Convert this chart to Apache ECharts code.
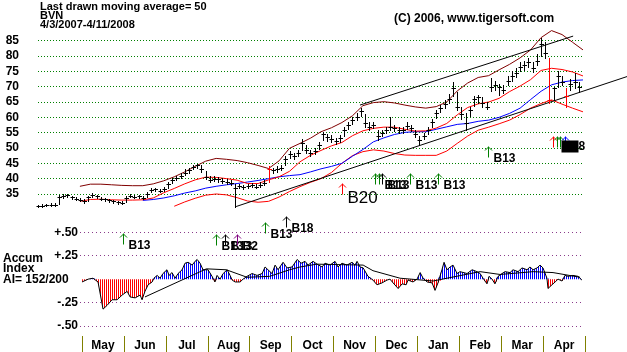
<!DOCTYPE html>
<html>
<head>
<meta charset="utf-8">
<script src="https://cdn.jsdelivr.net/npm/echarts@6/dist/echarts.min.js"></script>
<style>
html, body { margin: 0; padding: 0; background: #fff; }
#chart { width: 627px; height: 352px; }
</style>
</head>
<body>
<div id="chart"></div>
<script>
// price bars, one every 2 trading days (day index = i * barStep)
var barStep = 2;
var priceClose = [31.1,31.2,31.4,31.5,31.4,34.0,34.3,34.6,33.9,33.4,
  33.0,32.6,34.0,34.6,34.2,33.4,33.2,32.9,32.6,32.3,
  32.0,33.8,34.5,34.0,34.2,33.7,35.0,36.3,36.5,36.0,
  36.6,38.2,39.5,40.2,41.0,42.0,42.8,43.8,44.5,43.0,
  40.6,39.5,40.0,39.8,39.3,39.0,38.6,37.0,37.6,37.2,
  37.6,37.9,37.4,38.0,38.6,43.0,42.8,43.2,43.6,46.5,
  48.0,47.5,48.5,51.5,49.4,48.3,49.0,51.0,54.5,53.5,
  53.0,52.2,53.2,55.9,57.5,59.0,60.2,62.0,58.0,57.0,
  57.5,54.0,55.0,56.0,57.0,56.4,56.0,55.9,57.3,56.5,
  54.5,52.5,54.0,55.9,58.5,61.5,63.0,64.5,66.0,69.5,
  63.5,61.0,58.0,62.5,66.0,66.5,64.8,63.5,70.0,70.5,
  69.8,69.0,72.0,73.5,74.5,76.5,77.0,78.2,76.0,78.5,
  84.0,81.0,65.5,69.5,73.5,71.6,67.0,71.0,71.5,70.0];
var priceHigh = [31.5,31.6,31.8,31.9,31.9,34.6,35.0,35.1,34.5,34.0,
  33.6,33.2,34.5,35.2,34.8,34.0,33.7,33.4,33.1,32.8,
  32.6,34.4,35.0,34.6,34.8,34.2,35.6,36.9,37.0,36.6,
  37.2,38.8,40.2,41.0,41.8,43.0,43.5,44.6,44.9,44.5,
  42.5,40.8,40.8,40.6,40.2,39.8,39.5,38.3,38.4,38.0,
  38.3,38.6,38.2,38.8,39.4,44.0,43.6,44.0,44.6,47.5,
  49.0,48.5,49.4,52.8,51.0,49.5,50.0,52.0,55.3,54.6,
  54.2,53.4,54.2,56.8,58.4,60.0,61.5,63.0,61.0,58.5,
  58.5,56.0,56.0,57.0,60.2,57.5,57.0,57.0,58.4,57.5,
  56.0,53.8,55.0,56.8,59.5,62.5,64.0,65.5,67.5,71.6,
  68.4,63.5,61.5,63.5,67.0,67.3,66.5,65.0,72.7,72.0,
  71.0,70.5,73.5,75.0,76.0,78.0,78.5,79.5,78.0,80.5,
  85.8,84.5,79.5,70.0,75.0,73.5,69.5,72.5,74.4,71.6];
var priceLow = [30.8,30.9,31.0,31.1,31.0,31.6,33.8,34.0,33.5,33.0,
  32.6,32.2,32.8,34.0,33.7,33.0,32.8,32.4,32.1,31.8,
  31.6,32.4,33.9,33.6,33.7,33.2,34.0,35.6,35.9,35.5,
  36.0,37.0,38.6,39.5,40.2,41.2,42.0,43.0,43.6,42.3,
  40.0,38.8,39.2,39.0,38.6,38.3,37.8,30.9,36.8,36.5,
  36.9,37.2,36.8,37.3,37.9,39.0,41.8,42.3,42.8,44.5,
  46.8,46.5,47.4,49.5,48.4,47.3,48.0,49.6,52.5,52.4,
  52.0,51.2,52.0,54.0,56.3,57.8,59.0,60.5,57.0,56.0,
  56.5,52.6,53.8,54.8,56.0,55.5,55.0,54.8,56.2,55.4,
  53.5,51.0,52.8,54.6,57.0,59.8,61.8,63.2,64.8,67.0,
  62.5,59.5,55.9,60.5,63.8,64.8,63.5,62.8,68.5,69.0,
  67.3,67.8,70.5,72.0,73.0,75.0,75.5,76.5,74.9,77.0,
  80.0,79.5,64.6,65.5,70.0,70.5,63.5,69.0,69.5,68.4];
var redBars = [55, 122, 126];

// moving averages and bands, every 5 trading days
var bandDays = [20,25,30,35,40,45,50,55,60,65,70,75,80,85,90,95,100,105,110,115,
  120,125,130,135,140,145,150,155,160,165,170,175,180,185,190,195,200,205,210,215,
  220,225,230,235,240,245,250,255,260];
var upperBand = [37.5,38.2,38.2,38.0,37.8,37.7,37.7,38.3,39.3,40.6,42.2,44.0,45.7,46.6,46.3,45.9,45.2,44.3,43.3,45.8,
  49.9,51.5,53.2,55.3,56.6,58.3,60.5,63.8,64.8,65.1,64.7,64.0,63.4,63.0,63.5,65.0,68.6,71.2,73.0,73.6,
  75.5,77.3,79.4,82.0,86.0,88.3,87.0,84.5,82.0];
var ma21 = [32.6,33.2,33.3,33.1,33.0,33.0,33.1,33.7,35.4,36.8,38.3,39.6,40.5,40.4,40.0,39.5,38.4,38.4,39.6,40.6,
  42.4,45.5,47.6,49.2,50.7,51.8,54.0,55.6,56.4,56.8,56.8,56.1,55.5,55.6,56.5,58.0,60.8,63.2,64.4,65.0,
  66.2,68.4,70.2,72.3,75.3,76.0,75.6,74.8,73.5];
var ma50 = [null,null,null,null,null,null,32.9,33.2,33.7,34.4,35.3,36.0,36.9,37.5,38.0,38.4,38.9,39.4,40.0,40.6,
  41.0,41.3,42.2,43.2,44.0,45.0,47.3,49.5,52.0,53.3,54.4,55.1,55.3,55.3,56.1,56.9,57.7,58.0,58.7,59.1,
  60.0,61.3,63.0,65.8,68.5,70.6,71.5,72.0,72.2];
var lowerBand = [null,null,null,null,null,null,null,null,null,31.0,32.4,33.6,34.6,35.0,34.7,33.8,32.7,32.3,32.6,34.0,
  35.8,37.4,38.8,40.0,42.0,45.0,47.5,48.8,49.4,49.0,48.2,47.7,47.6,47.6,47.6,49.0,51.5,53.9,55.8,56.8,
  57.9,59.1,60.9,63.0,64.5,65.7,64.3,63.0,61.8];

// trend lines
var trendUpDays = [153.6, 255.3];
var trendUpVals = [64.0, 86.5];
var trendLowDays = [94.5, 281];
var trendLowVals = [30.9, 73.3];

// signals on the price panel
var priceSigDays = [145.0, 160.8, 162.7, 164.1, 177.5, 190.7, 214.8, 245.9, 247.8, 249.0, 251.4];
var priceSigVals = [38.6, 41.8, 41.8, 41.8, 41.8, 41.8, 50.5, 53.9, 53.9, 53.9, 53.9];
var priceSigColors = ['#ff0000','#008000','#008000','#000000','#008000','#008000','#008000','#ff0000','#008000','#008000','#0000ff'];
var priceSigLabels = ['B20','','B13','B13','B13','B13','B13','','','','#8'];

// accumulation index
var aiDays = [21.0,23.9,26.2,28.6,31.0,32.9,35.3,37.7,40.1,42.5,
  43.9,46.3,48.7,49.6,51.0,52.5,54.4,55.3,56.8,58.2,
  59.6,61.5,62.5,63.9,65.4,66.8,68.7,70.1,71.6,73.5,
  74.9,75.9,77.3,78.7,81.1,83.0,84.4,85.4,86.8,88.3,
  90.2,91.6,92.6,94.0,96.4,97.8,99.7,102.1,104.5,106.9,
  108.3,109.7,111.6,113.1,114.5,116.9,118.8,121.2,123.6,125.5,
  127.4,128.8,131.2,133.1,135.5,136.9,139.3,141.7,143.1,145.0,
  147.4,149.8,151.2,152.2,153.6,155.1,157.4,159.8,161.7,164.1,
  166.5,167.9,169.4,171.8,173.7,175.6,176.5,178.9,180.8,182.3,
  183.7,185.6,188.0,189.4,190.8,192.7,193.7,195.1,196.6,198.0,
  199.9,201.3,204.7,207.1,209.4,210.9,212.3,214.2,215.2,216.6,
  218.0,219.5,221.4,222.8,225.2,226.6,229.0,230.9,233.3,234.7,
  236.2,238.1,239.5,240.9,242.8,243.3,245.2,246.7,248.1,250.0,
  251.4,252.9,255.2,257.6,259.5];
var aiVals = [-0.03,0.0,0.01,-0.03,-0.32,-0.28,-0.22,-0.22,-0.17,-0.13,
  -0.19,-0.20,-0.17,-0.22,-0.13,-0.06,-0.03,0.01,0.04,0.01,
  0.06,0.10,0.04,0.07,0.01,0.06,0.10,0.17,0.18,0.15,
  0.19,0.21,0.17,0.10,0.10,0.03,-0.03,0.04,0.0,0.06,
  0.10,0.04,-0.01,-0.03,-0.03,0.0,0.03,0.06,0.04,0.06,
  0.13,0.10,0.06,0.15,0.10,0.18,0.12,0.13,0.21,0.17,
  0.19,0.15,0.19,0.16,0.13,0.17,0.15,0.19,0.13,0.17,
  0.15,0.18,0.15,0.19,0.13,0.12,0.03,-0.01,-0.06,-0.04,
  -0.01,0.0,-0.04,-0.10,-0.05,-0.06,-0.01,-0.03,0.0,0.07,
  0.01,-0.03,-0.04,-0.12,-0.04,0.10,0.18,0.10,0.13,0.15,
  0.06,0.08,0.06,0.10,0.08,0.06,0.01,-0.05,0.03,0.0,
  -0.05,0.03,0.06,0.08,0.07,0.10,0.08,0.12,0.10,0.13,
  0.10,0.12,0.15,0.12,0.01,-0.10,-0.06,-0.03,0.0,-0.02,
  0.04,0.03,0.04,0.03,-0.01];
var aiMaDays = [51.0,80.3,89.8,99.7,110.5,120.0,125.0,133.0,155.1,159.8,172.7,188.5,195.1,210.9,220.4,236.2,245.7,258.6];
var aiMaVals = [-0.19,0.11,0.10,0.02,0.03,0.10,0.13,0.16,0.15,0.09,0.01,-0.02,0.01,0.08,0.05,0.08,0.07,0.02];

// signals on the AI panel
var aiSigDays = [40.7, 84.9, 89.2, 95.1, 108.3, 118.3];
var aiSigVals = [0.49, 0.48, 0.48, 0.48, 0.61, 0.67];
var aiSigColors = ['#008000','#008000','#000000','#800080','#008000','#000000'];
var aiSigLabels = ['B13','B13','B13','B2','B13','B18'];

var months = ['May','Jun','Jul','Aug','Sep','Oct','Nov','Dec','Jan','Feb','Mar','Apr',''];

var FONT = 'Arial, "Liberation Sans", sans-serif';

function pairs(xs, ys) {
    return xs.map(function (x, i) { return [x, ys[i]]; });
}

//竖条纹填充
function stripe(color) {
    var c = document.createElement('canvas');
    c.width = 2;
    c.height = 2;
    var ctx = c.getContext('2d');
    ctx.fillStyle = color;
    ctx.fillRect(0, 0, 1, 2);
    return c;
}

function renderBar(params, api) {
    var d = api.value(0);
    var lo = api.coord([d, api.value(1)]);
    var hi = api.coord([d, api.value(2)]);
    var cl = api.coord([d, api.value(3)]);
    var x = Math.round(lo[0]) + 0.5;
    var yc = Math.round(cl[1]) + 0.5;
    var col = redBars.indexOf(params.dataIndex) >= 0 ? '#ff0000' : '#000000';
    return {
        type: 'group',
        children: [
            {type: 'line', shape: {x1: x, y1: Math.round(hi[1]), x2: x, y2: Math.round(lo[1]) + 1}, style: {stroke: col, lineWidth: 1}},
            {type: 'line', shape: {x1: x - 2, y1: yc, x2: x + 2.5, y2: yc}, style: {stroke: col, lineWidth: 1}}
        ]
    };
}

function arrowSeries(days, vals, colors, labels, xi, yi) {
    return {
        type: 'custom',
        xAxisIndex: xi,
        yAxisIndex: yi,
        clip: false,
        z: 6,
        data: pairs(days, vals),
        renderItem: function (params, api) {
            var i = params.dataIndex;
            var p = api.coord([api.value(0), api.value(1)]);
            var x = Math.round(p[0]) + 0.5;
            var y = Math.round(p[1]) + 0.5;
            var c = colors[i], lab = labels[i];
            var kids = [
                {type: 'polyline', shape: {points: [[x, y], [x, y + 11]]}, style: {stroke: c, lineWidth: 1, fill: null}},
                {type: 'polyline', shape: {points: [[x - 3.5, y + 4], [x, y + 0.5], [x + 3.5, y + 4]]}, style: {stroke: c, lineWidth: 1, fill: null}}
            ];
            if (lab === 'B20') {
                kids.push({type: 'text', style: {text: lab, x: x + 5, y: y + 15, fill: '#000', font: '17px ' + FONT,
                    verticalAlign: 'middle', textVerticalAlign: 'middle'}});
            } else if (lab.charAt(0) === '#') {
                kids.push({type: 'rect', shape: {x: x - 4, y: y + 4, width: 17, height: 12}, style: {fill: '#000'}});
                kids.push({type: 'text', style: {text: lab.slice(1), x: x + 13, y: y + 10, fill: '#000', font: 'bold 12px ' + FONT,
                    verticalAlign: 'middle', textVerticalAlign: 'middle'}});
            } else if (lab) {
                kids.push({type: 'text', style: {text: lab, x: x + 5, y: y + 12, fill: '#000', font: 'bold 12px ' + FONT,
                    verticalAlign: 'middle', textVerticalAlign: 'middle'}});
            }
            return {type: 'group', children: kids};
        }
    };
}

function lineSeries(xs, ys, color, xi, yi) {
    return {
        type: 'line',
        xAxisIndex: xi,
        yAxisIndex: yi,
        data: pairs(xs, ys),
        symbol: 'none',
        clip: false,
        z: 3,
        lineStyle: {color: color, width: 1}
    };
}

var green = '#008000';
var aiGrid = '#8a3c8a';
var tr = 'rgba(0,0,0,0)';

var myChart = echarts.init(document.getElementById('chart'), null, {renderer: 'canvas'});

var option = {
    animation: false,
    backgroundColor: '#ffffff',
    textStyle: {fontFamily: FONT},
    grid: [
        // 0: price axis labels and dotted lines
        {left: 38, width: 545, top: 40.7, height: 168.6},
        // 1: price series, wider so the trend line can run to the edge
        {left: 38, width: 589, top: 25.37, height: 183.93},
        // 2: accumulation index
        {left: 80, width: 503, top: 232.3, height: 93.7},
        // 3: month labels
        {left: 82, width: 572, top: 335, height: 1}
    ],
    xAxis: [
        {type: 'value', gridIndex: 0, min: 0, max: 260, show: false},
        {type: 'value', gridIndex: 1, min: 0, max: 281, show: false},
        {type: 'value', gridIndex: 2, min: 20, max: 260, show: false},
        {
            type: 'category', gridIndex: 3, data: months,
            axisLine: {show: false},
            axisTick: {show: true, length: 16, interval: 0, lineStyle: {color: '#808000', width: 1}},
            axisLabel: {interval: 0, margin: 4, color: '#000', fontWeight: 'bold', fontSize: 12, fontFamily: FONT},
            splitLine: {show: false}
        }
    ],
    yAxis: [
        {
            type: 'value', gridIndex: 0, min: 30, max: 85, interval: 5,
            axisLine: {show: false}, axisTick: {show: false},
            axisLabel: {showMinLabel: false, margin: 19, color: '#000', fontWeight: 'bold', fontSize: 12, fontFamily: FONT},
            splitLine: {show: true, lineStyle: {color: [tr, green, green, green, green, green, green, green, green, green, green, green], type: [1, 2], width: 1}}
        },
        {type: 'value', gridIndex: 1, min: 30, max: 90, show: false},
        {
            type: 'value', gridIndex: 2, min: -0.5, max: 0.5, interval: 0.25,
            axisLine: {show: false}, axisTick: {show: false},
            axisLabel: {
                margin: 2, color: '#000', fontWeight: 'bold', fontSize: 12, fontFamily: FONT,
                formatter: function (v) {
                    if (Math.abs(v) < 1e-6) return '';
                    return (v > 0 ? '+' : '-') + '.' + Math.round(Math.abs(v) * 100);
                }
            },
            splitLine: {show: true, lineStyle: {color: [aiGrid, aiGrid, tr, aiGrid, aiGrid], type: [1, 3], width: 1}}
        },
        {type: 'value', gridIndex: 3, show: false}
    ],
    graphic: [
        {type: 'text', left: 40, top: 1, style: {text: 'Last drawn moving average= 50', font: 'bold 11px ' + FONT, fill: '#000'}},
        {type: 'text', left: 40, top: 10, style: {text: 'BVN', font: 'bold 11px ' + FONT, fill: '#000'}},
        {type: 'text', left: 40, top: 19, style: {text: '4/3/2007-4/11/2008', font: 'bold 11px ' + FONT, fill: '#000'}},
        {type: 'text', left: 394, top: 13, style: {text: '(C) 2006, www.tigersoft.com', font: 'bold 12px ' + FONT, fill: '#000'}},
        {type: 'text', left: 3, top: 253, style: {text: 'Accum', font: 'bold 12px ' + FONT, fill: '#000'}},
        {type: 'text', left: 3, top: 263, style: {text: 'Index', font: 'bold 12px ' + FONT, fill: '#000'}},
        {type: 'text', left: 3, top: 274, style: {text: 'AI= 152/200', font: 'bold 12px ' + FONT, fill: '#000'}}
    ],
    series: [
        lineSeries(bandDays, upperBand, '#800000', 1, 1),
        lineSeries(bandDays, lowerBand, '#ff0000', 1, 1),
        lineSeries(bandDays, ma50, '#0000ff', 1, 1),
        lineSeries(bandDays, ma21, '#ff0000', 1, 1),
        lineSeries(trendUpDays, trendUpVals, '#000000', 1, 1),
        lineSeries(trendLowDays, trendLowVals, '#000000', 1, 1),
        {
            type: 'custom',
            xAxisIndex: 1,
            yAxisIndex: 1,
            clip: false,
            z: 4,
            data: priceClose.map(function (c, i) { return [i * barStep, priceLow[i], priceHigh[i], c]; }),
            renderItem: renderBar
        },
        arrowSeries(priceSigDays, priceSigVals, priceSigColors, priceSigLabels, 1, 1),
        // AI histogram, blue above zero and red below
        {
            type: 'line', xAxisIndex: 2, yAxisIndex: 2, symbol: 'none', z: 2,
            data: aiDays.map(function (d, i) { return [d, Math.max(aiVals[i], 0)]; }),
            lineStyle: {width: 0},
            areaStyle: {color: {image: stripe('#0000ff'), repeat: 'repeat'}, opacity: 1}
        },
        {
            type: 'line', xAxisIndex: 2, yAxisIndex: 2, symbol: 'none', z: 2,
            data: aiDays.map(function (d, i) { return [d, Math.min(aiVals[i], 0)]; }),
            lineStyle: {width: 0},
            areaStyle: {color: {image: stripe('#ff0000'), repeat: 'repeat'}, opacity: 1}
        },
        lineSeries(aiDays, aiVals, '#000000', 2, 2),
        lineSeries(aiMaDays, aiMaVals, '#000000', 2, 2),
        arrowSeries(aiSigDays, aiSigVals, aiSigColors, aiSigLabels, 2, 2)
    ]
};

myChart.setOption(option);
</script>
</body>
</html>
